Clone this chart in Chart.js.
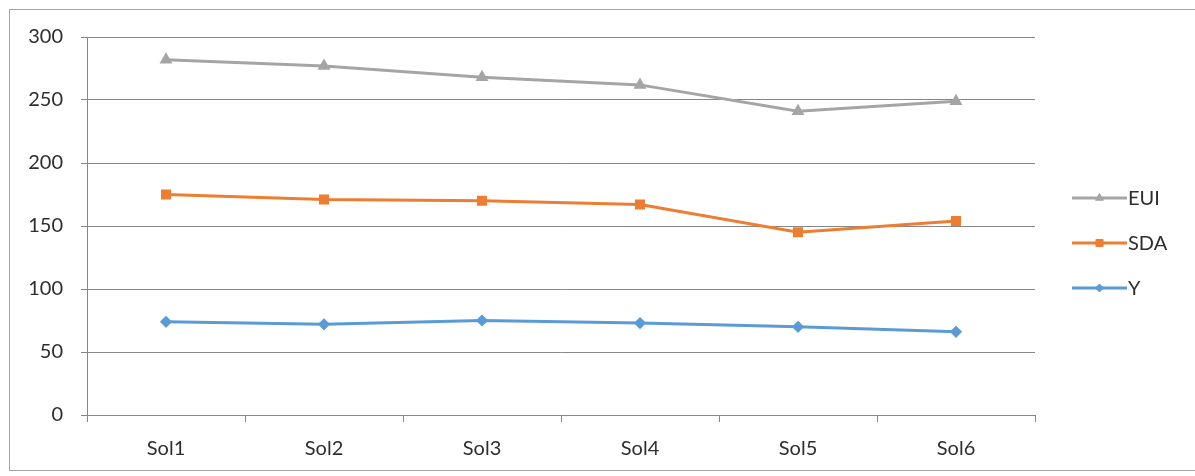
<!DOCTYPE html>
<html>
<head>
<meta charset="utf-8">
<script src="https://cdn.jsdelivr.net/npm/chart.js@4/dist/chart.umd.min.js"></script>
<style>
  html, body { margin: 0; padding: 0; background: #fff; }
  canvas { display: block; }
</style>
</head>
<body>
<canvas id="c" width="1195" height="476"></canvas>
<script>
// Categories and series values
const solutions = ['Sol1', 'Sol2', 'Sol3', 'Sol4', 'Sol5', 'Sol6'];
const euiValues = [282, 277, 268, 262, 241, 249];
const sdaValues = [175, 171, 170, 167, 145, 154];
const yValues   = [74, 72, 75, 73, 70, 66];
const yTickValues = [0, 50, 100, 150, 200, 250, 300];

const textColor = '#2e2e2e';
const gridColor = '#878787';
const fontFamily = 'Lato, "Liberation Sans", sans-serif';

// White background with a thin frame around the whole chart
const frame = {
  id: 'frame',
  beforeDraw(chart) {
    const ctx = chart.ctx;
    ctx.save();
    ctx.fillStyle = '#ffffff';
    ctx.fillRect(0, 0, chart.width, chart.height);
    ctx.strokeStyle = '#a6a6a6';
    ctx.lineWidth = 1;
    ctx.strokeRect(9.5, 9.5, chart.width, chart.height - 15);
    ctx.restore();
  }
};

// Legend on the right: short line with the series marker, then the name
const sideLegend = {
  id: 'sideLegend',
  afterDraw(chart) {
    const ctx = chart.ctx;
    const x0 = chart.chartArea.right + 37;
    const lineLen = 55;
    const rowGap = 45;
    const firstRow = 198;
    chart.data.datasets.forEach((ds, i) => {
      const y = firstRow + i * rowGap;
      ctx.save();
      ctx.strokeStyle = ds.borderColor;
      ctx.lineWidth = ds.borderWidth;
      ctx.beginPath();
      ctx.moveTo(x0, y);
      ctx.lineTo(x0 + lineLen, y);
      ctx.stroke();
      ctx.fillStyle = ds.pointBackgroundColor;
      ctx.strokeStyle = ds.pointBorderColor;
      ctx.lineWidth = 1;
      Chart.helpers.drawPoint(ctx, {
        pointStyle: ds.pointStyle,
        radius: ds.pointRadius,
        borderWidth: 1,
        rotation: 0
      }, x0 + lineLen / 2, y);
      ctx.fillStyle = textColor;
      ctx.font = '20px ' + fontFamily;
      ctx.textBaseline = 'middle';
      ctx.textAlign = 'left';
      ctx.fillText(ds.label, x0 + lineLen + 1, y + 1);
      ctx.restore();
    });
  }
};

function series(label, data, color, pointStyle, radius) {
  return {
    label,
    data,
    borderColor: color,
    backgroundColor: color,
    pointBackgroundColor: color,
    pointBorderColor: color,
    borderWidth: 3,
    pointStyle,
    pointRadius: radius,
    pointHoverRadius: radius,
    tension: 0,
    fill: false
  };
}

new Chart(document.getElementById('c'), {
  type: 'line',
  data: {
    labels: solutions,
    datasets: [
      series('EUI', euiValues, '#a5a5a5', 'triangle', 4.5),
      series('SDA', sdaValues, '#ed7d31', 'rect', 5),
      series('Y', yValues, '#5b9bd5', 'rectRot', 4)
    ]
  },
  options: {
    responsive: false,
    animation: false,
    devicePixelRatio: 1,
    layout: { padding: { left: 9, right: 160, top: 37, bottom: 11 } },
    plugins: {
      legend: { display: false },
      tooltip: { enabled: false }
    },
    scales: {
      x: {
        offset: true,
        afterFit(scale) { scale.height = 50; },
        grid: {
          offset: true,
          drawOnChartArea: false,
          drawTicks: true,
          tickLength: 7,
          color: gridColor
        },
        border: { display: true, color: gridColor, width: 1 },
        ticks: {
          color: textColor,
          padding: 15,
          font: { family: fontFamily, size: 20 },
          maxRotation: 0
        }
      },
      y: {
        min: 0,
        max: 300,
        afterFit(scale) { scale.width = 78; },
        afterBuildTicks(scale) {
          scale.ticks = yTickValues.map(v => ({ value: v }));
        },
        grid: {
          color: gridColor,
          lineWidth: 1,
          drawTicks: true,
          tickLength: 6
        },
        border: { display: true, color: gridColor, width: 1 },
        ticks: {
          color: textColor,
          padding: 18,
          font: { family: fontFamily, size: 20 }
        }
      }
    }
  },
  plugins: [frame, sideLegend]
});
</script>
</body>
</html>
